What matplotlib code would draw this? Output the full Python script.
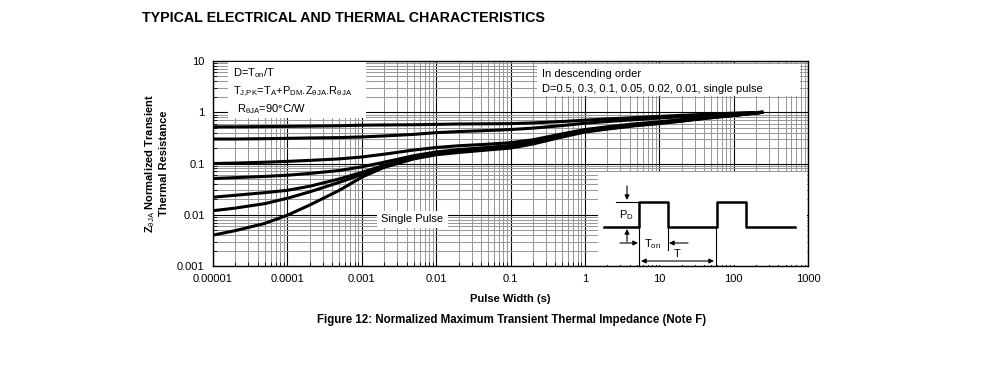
import matplotlib
matplotlib.use("Agg")
import matplotlib.pyplot as plt
from matplotlib.patches import Rectangle
from matplotlib.ticker import FixedLocator, FixedFormatter, LogLocator, NullFormatter

plt.rcParams["font.family"] = ["Liberation Sans", "DejaVu Sans"]
plt.rcParams["mathtext.fontset"] = "custom"
plt.rcParams["mathtext.rm"] = "Liberation Sans"
plt.rcParams["mathtext.it"] = "Liberation Sans"
plt.rcParams["mathtext.bf"] = "Liberation Sans:bold"

# pulse width (s) sample points
pulse_width = [1e-5, 2e-5, 5e-5, 1e-4, 2e-4, 5e-4, 1e-3, 2e-3, 5e-3, 1e-2,
               2e-2, 5e-2, 0.1, 0.2, 0.5, 1, 2, 5, 10, 20, 50, 100, 250]

# normalized transient thermal resistance, in descending order of D
z_d050 = [0.52, 0.52, 0.525, 0.53, 0.535, 0.545, 0.56, 0.565, 0.57, 0.58,
          0.59, 0.595, 0.60, 0.62, 0.66, 0.70, 0.74, 0.79, 0.83, 0.87,
          0.92, 0.96, 1.0]
z_d030 = [0.30, 0.30, 0.305, 0.31, 0.315, 0.32, 0.33, 0.345, 0.37, 0.40,
          0.42, 0.44, 0.46, 0.49, 0.55, 0.61, 0.66, 0.72, 0.77, 0.82,
          0.89, 0.94, 1.0]
z_d010 = [0.10, 0.102, 0.106, 0.11, 0.115, 0.123, 0.134, 0.152, 0.183, 0.205,
          0.222, 0.238, 0.255, 0.29, 0.38, 0.46, 0.52, 0.60, 0.65, 0.72,
          0.82, 0.89, 1.0]
z_d005 = [0.051, 0.053, 0.056, 0.059, 0.064, 0.073, 0.086, 0.106, 0.142, 0.168,
          0.187, 0.206, 0.225, 0.265, 0.355, 0.44, 0.50, 0.58, 0.63, 0.70,
          0.81, 0.88, 1.0]
z_d002 = [0.022, 0.024, 0.027, 0.030, 0.036, 0.050, 0.067, 0.092, 0.131, 0.158,
          0.177, 0.196, 0.215, 0.255, 0.345, 0.43, 0.49, 0.57, 0.62, 0.69,
          0.80, 0.875, 1.0]
z_d001 = [0.012, 0.0135, 0.0165, 0.021, 0.028, 0.043, 0.061, 0.087, 0.126, 0.153,
          0.171, 0.19, 0.21, 0.25, 0.34, 0.42, 0.48, 0.56, 0.61, 0.68,
          0.79, 0.87, 1.0]
z_single = [0.004, 0.0049, 0.0068, 0.0098, 0.0155, 0.030, 0.054, 0.084, 0.123, 0.148,
            0.164, 0.184, 0.20, 0.24, 0.33, 0.41, 0.47, 0.55, 0.60, 0.67,
            0.78, 0.86, 1.0]
curves = [z_d050, z_d030, z_d010, z_d005, z_d002, z_d001, z_single]

x_ticks = [1e-5, 1e-4, 1e-3, 1e-2, 1e-1, 1, 10, 100, 1000]
x_tick_labels = ["0.00001", "0.0001", "0.001", "0.01", "0.1", "1", "10", "100", "1000"]
y_ticks = [0.001, 0.01, 0.1, 1, 10]
y_tick_labels = ["0.001", "0.01", "0.1", "1", "10"]

W, H = 991, 373
fig = plt.figure(figsize=(W / 100, H / 100), dpi=100)


def px_box(x0, y0, x1, y1):
    # figure pixel box (top-left origin) -> figure fraction rect
    return [x0 / W, 1 - y1 / H, (x1 - x0) / W, (y1 - y0) / H]


ax = fig.add_axes(px_box(213, 61, 808, 266))
ax.set_xscale("log")
ax.set_yscale("log")
ax.set_xlim(1e-5, 1000)
ax.set_ylim(0.001, 10)

ax.xaxis.set_major_locator(FixedLocator(x_ticks))
ax.xaxis.set_major_formatter(FixedFormatter(x_tick_labels))
ax.yaxis.set_major_locator(FixedLocator(y_ticks))
ax.yaxis.set_major_formatter(FixedFormatter(y_tick_labels))
ax.xaxis.set_minor_locator(LogLocator(base=10, subs=range(2, 10), numticks=20))
ax.yaxis.set_minor_locator(LogLocator(base=10, subs=range(2, 10), numticks=20))
ax.xaxis.set_minor_formatter(NullFormatter())
ax.yaxis.set_minor_formatter(NullFormatter())

ax.grid(which="minor", color="#999999", linewidth=0.75)
ax.grid(which="major", color="black", linewidth=0.8)
ax.set_axisbelow(True)
ax.tick_params(which="both", direction="in", labelsize=8, pad=6)
ax.tick_params(which="major", length=0)
ax.tick_params(which="minor", length=3, width=0.6)
for s in ax.spines.values():
    s.set_linewidth(1.0)

for z in curves:
    ax.plot(pulse_width, z, color="black", linewidth=2.2, zorder=3,
            solid_capstyle="butt", solid_joinstyle="round")

# white label boxes
for (x0, y0, x1, y1) in [(0.025, 0.72, 0.257, 0.995),
                         (0.545, 0.83, 0.987, 0.985),
                         (0.276, 0.185, 0.395, 0.27)]:
    ax.add_patch(Rectangle((x0, y0), x1 - x0, y1 - y0, transform=ax.transAxes,
                           facecolor="white", edgecolor="none", zorder=4))

ax.text(0.034, 0.94, "D=T$_{on}$/T", transform=ax.transAxes, fontsize=8,
        va="center", zorder=5)
ax.text(0.034, 0.85, r"T$_{J{,}PK}$=T$_A$+P$_{DM}$.Z$_{\theta JA}$.R$_{\theta JA}$",
        transform=ax.transAxes, fontsize=8, va="center", zorder=5)
ax.text(0.040, 0.765, r"R$_{\theta JA}$=90°C/W", transform=ax.transAxes, fontsize=8,
        va="center", zorder=5)
ax.text(0.553, 0.935, "In descending order", transform=ax.transAxes, fontsize=8,
        va="center", zorder=5)
ax.text(0.553, 0.865, "D=0.5, 0.3, 0.1, 0.05, 0.02, 0.01, single pulse",
        transform=ax.transAxes, fontsize=8, va="center", zorder=5)
ax.text(0.335, 0.227, "Single Pulse", transform=ax.transAxes, fontsize=8,
        va="center", ha="center", zorder=5)

ax.set_xlabel("Pulse Width (s)", fontsize=8, fontweight="bold", labelpad=7)
ax.set_ylabel("Z$_{\\theta JA}$ Normalized Transient\nThermal Resistance",
              fontsize=8, fontweight="bold", labelpad=6)

fig.text(142 / W, 1 - 18 / H, "TYPICAL ELECTRICAL AND THERMAL CHARACTERISTICS",
         fontsize=10.3, fontweight="bold", va="center")
fig.text(512 / W, 1 - 320 / H,
         "Figure 12: Normalized Maximum Transient Thermal Impedance (Note F)",
         fontsize=8.3, fontweight="bold", va="center", ha="center")

# pulse train inset (drawn in pixel units of the reference)
ins = fig.add_axes(px_box(598, 172, 807, 265), zorder=5)
ins.set_facecolor("white")
ins.set_xlim(598, 807)
ins.set_ylim(265, 172)
ins.set_xticks([])
ins.set_yticks([])
for s in ins.spines.values():
    s.set_visible(False)

wave_x = [604, 639, 639, 668, 668, 717, 717, 746, 746, 795]
wave_y = [227, 227, 202, 202, 227, 227, 202, 202, 227, 227]
ins.plot(wave_x, wave_y, color="black", linewidth=1.8, clip_on=False)
ins.plot([616, 639], [202, 202], color="black", linewidth=0.8)
ins.plot([639, 639], [227, 266], color="black", linewidth=0.8, clip_on=False)
ins.plot([668, 668], [227, 250], color="black", linewidth=0.8)
ins.plot([716, 716], [227, 266], color="black", linewidth=0.8, clip_on=False)
arrow = dict(arrowstyle="-|>", color="black", lw=0.8, mutation_scale=7,
             shrinkA=0, shrinkB=0)
ins.annotate("", xy=(627, 200), xytext=(627, 186), arrowprops=arrow)
ins.annotate("", xy=(627, 229), xytext=(627, 242), arrowprops=arrow)
ins.annotate("", xy=(638, 243), xytext=(620, 243), arrowprops=arrow)
ins.annotate("", xy=(669, 243), xytext=(688, 243), arrowprops=arrow)
ins.annotate("", xy=(641, 261), xytext=(714, 261),
             arrowprops=dict(arrowstyle="<|-|>", color="black", lw=0.8,
                             mutation_scale=7, shrinkA=0, shrinkB=0))
ins.text(626, 215, "P$_{\\mathrm{D}}$", fontsize=8, ha="center", va="center")
ins.text(652, 244, "T$_{on}$", fontsize=8, ha="center", va="center")
ins.text(677, 254, "T", fontsize=8, ha="center", va="center")

fig.savefig("out.png", dpi=100)
